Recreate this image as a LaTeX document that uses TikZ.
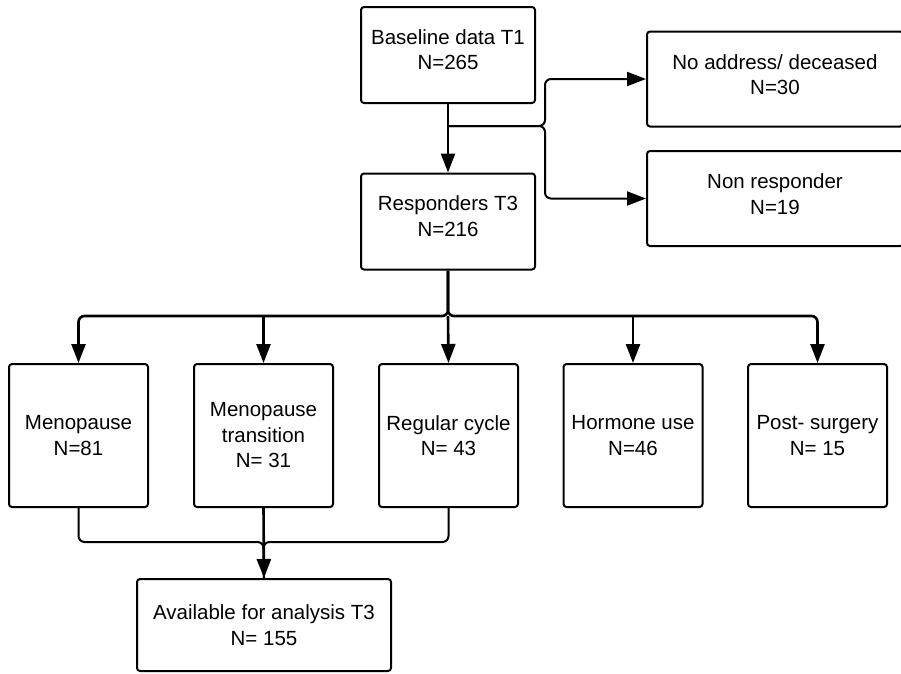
\documentclass[tikz,border=0pt]{standalone}
\usepackage{fontspec}
\setmainfont{Liberation Sans}
\usetikzlibrary{arrows.meta}

\begin{document}
\begin{tikzpicture}[x=1pt,y=-1pt,
  font=\fontsize{20.5}{25.5}\selectfont,
  flowbox/.style={draw,line width=2pt,rounded corners=3pt,align=center,inner sep=0pt},
  topbox/.style={flowbox,minimum width=174pt,minimum height=96pt,text depth=11pt},
  sidebox/.style={flowbox,minimum width=256pt,minimum height=95pt,text depth=9pt},
  groupbox/.style={flowbox,minimum width=139pt,minimum height=143pt},
  link/.style={line width=2pt,rounded corners=6pt},
  arrowlink/.style={link,line width=2.6pt,-{Triangle[length=19pt,width=14pt]}}]
  \useasboundingbox (0,0) rectangle (901,673);

  \node[topbox] (base) at (448,55) {Baseline data T1\\N=265};
  \node[topbox] (resp) at (448,221.5) {Responders T3\\N=216};
  \node[sidebox] (noaddr) at (775,79) {No address/ deceased\\N=30};
  \node[sidebox] (nonresp) at (775,198.5) {Non responder\\N=19};

  \node[groupbox] (meno) at (78.5,435.5) {Menopause\\N=81};
  \node[groupbox] (trans) at (263.5,435.5) {Menopause\\transition\\N= 31};
  \node[groupbox] (regular) at (448.5,435.5) {Regular cycle\\N= 43};
  \node[groupbox] (hormone) at (633,435.5) {Hormone use\\N=46};
  \node[groupbox] (surgery) at (817.5,435.5) {Post- surgery\\N= 15};

  \node[flowbox,minimum width=254pt,minimum height=92pt] (avail) at (264,625) {Available for analysis T3\\N= 155};

  % drop outs after T1
  \coordinate (split) at (448,126);
  \coordinate (fork) at (545,126);
  \draw[arrowlink] (base) -- (resp);
  \draw[link,-{Triangle[length=19pt,width=14pt]}] (split) -- (fork) |- (noaddr.west);
  \draw[link,-{Triangle[length=19pt,width=14pt]}] (split) -- (fork) |- (nonresp.west);

  % groups at T3
  \coordinate (bus) at (448,316);
  \draw[arrowlink] (resp.south) -- (bus) -| (meno.north);
  \draw[arrowlink] (resp.south) -- (bus) -| (surgery.north);
  \draw[arrowlink] (bus -| trans.north) -- (trans.north);
  \draw[arrowlink] (bus) -- (regular.north);
  \draw[arrowlink] (bus -| hormone.north) -- (hormone.north);

  % analysis sample
  \coordinate (join) at (263.5,542);
  \draw[link] (meno.south) |- (join) -- (avail.north);
  \draw[link] (regular.south) |- (join) -- (avail.north);
  \draw[arrowlink] (trans.south) -- (avail.north);
\end{tikzpicture}
\end{document}
